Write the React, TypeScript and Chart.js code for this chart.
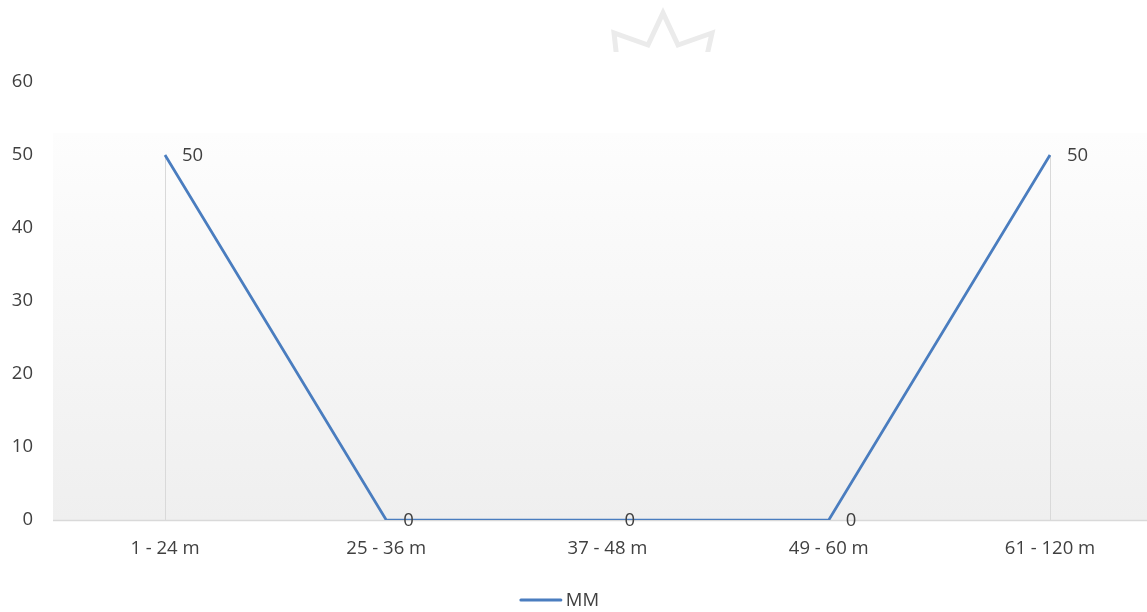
import { useEffect, useRef } from "react";
import { Chart, registerables } from "chart.js";

Chart.register(...registerables);

// Age bands along the horizontal axis
const categories = ["1 - 24 m", "25 - 36 m", "37 - 48 m", "49 - 60 m", "61 - 120 m"];
// Series values per band
const seriesName = "MM";
const mmValues = [50, 0, 0, 0, 50];
// Vertical axis range
const yMin = 0;
const yMax = 60;
const yStep = 10;

const FONT = "'Open Sans', 'Noto Sans', sans-serif";
const FONT_SIZE = 18.5;
const TEXT = "#404040";
const LINE = "#4a7dbf";

// Soft gradient behind the plot, thin drop lines, and the faint crown mark
const backdrop = {
  id: "backdrop",
  beforeDatasetsDraw(chart: any) {
    const { ctx, chartArea, scales } = chart;
    const top = scales.y.getPixelForValue(53);
    const g = ctx.createLinearGradient(0, top, 0, chartArea.bottom);
    g.addColorStop(0, "#fdfdfd");
    g.addColorStop(1, "#efefef");
    ctx.save();
    ctx.fillStyle = g;
    ctx.fillRect(chartArea.left, top, chartArea.right - chartArea.left, chartArea.bottom - top);
    // axis line redrawn over the fill
    ctx.strokeStyle = "#d9d9d9";
    ctx.lineWidth = 1.5;
    ctx.beginPath();
    ctx.moveTo(chartArea.left, chartArea.bottom + 0.5);
    ctx.lineTo(chartArea.right, chartArea.bottom + 0.5);
    ctx.stroke();
    // drop lines from each point to the baseline
    const meta = chart.getDatasetMeta(0);
    const base = scales.y.getPixelForValue(0);
    ctx.strokeStyle = "#d9d9d9";
    ctx.lineWidth = 1;
    meta.data.forEach((pt: any) => {
      ctx.beginPath();
      ctx.moveTo(Math.round(pt.x) + 0.5, pt.y);
      ctx.lineTo(Math.round(pt.x) + 0.5, base);
      ctx.stroke();
    });
    ctx.restore();
  },
  beforeDraw(chart: any) {
    const { ctx } = chart;
    ctx.save();
    ctx.beginPath();
    ctx.rect(0, 0, chart.width, 52);
    ctx.clip();
    ctx.strokeStyle = "#ebebeb";
    ctx.lineWidth = 5;
    ctx.lineJoin = "miter";
    ctx.beginPath();
    ctx.moveTo(617, 60);
    ctx.lineTo(614, 33);
    ctx.lineTo(648, 45);
    ctx.lineTo(663, 13);
    ctx.lineTo(678, 45);
    ctx.lineTo(712, 33);
    ctx.lineTo(706, 60);
    ctx.stroke();
    ctx.restore();
  },
};

// Value labels placed to the right of each point
const valueLabels = {
  id: "valueLabels",
  afterDatasetsDraw(chart: any) {
    const { ctx } = chart;
    const meta = chart.getDatasetMeta(0);
    const values = chart.data.datasets[0].data;
    ctx.save();
    ctx.font = `${FONT_SIZE}px ${FONT}`;
    ctx.fillStyle = TEXT;
    ctx.textAlign = "left";
    ctx.textBaseline = "middle";
    meta.data.forEach((pt: any, i: number) => {
      ctx.fillText(String(values[i].y), pt.x + 17, pt.y + 1);
    });
    ctx.restore();
  },
};

// Legend entry drawn under the axis labels
const bottomLegend = {
  id: "bottomLegend",
  afterDraw(chart: any) {
    const { ctx } = chart;
    const ds = chart.data.datasets[0];
    ctx.save();
    ctx.font = `${FONT_SIZE}px ${FONT}`;
    const tw = ctx.measureText(ds.label).width;
    const total = 40 + 5 + tw;
    const cx = 560;
    const y = 600;
    const x0 = cx - total / 2;
    ctx.strokeStyle = ds.borderColor;
    ctx.lineWidth = 3;
    ctx.lineCap = "round";
    ctx.beginPath();
    ctx.moveTo(x0, y);
    ctx.lineTo(x0 + 40, y);
    ctx.stroke();
    ctx.fillStyle = TEXT;
    ctx.textAlign = "left";
    ctx.textBaseline = "middle";
    ctx.fillText(ds.label, x0 + 45, y + 1);
    ctx.restore();
  },
};

export default function App() {
  const ref = useRef<HTMLCanvasElement | null>(null);

  useEffect(() => {
    if (!ref.current) return;
    const chart = new Chart(ref.current, {
      type: "line",
      data: {
        datasets: [
          {
            label: seriesName,
            data: mmValues.map((v, i) => ({ x: i, y: v })),
            borderColor: LINE,
            backgroundColor: LINE,
            borderWidth: 2.75,
            pointRadius: 0,
            pointHoverRadius: 0,
            tension: 0,
            borderJoinStyle: "miter",
          },
        ],
      },
      options: {
        responsive: false,
        animation: false,
        events: [],
        layout: { padding: { top: 82, bottom: 32, left: 0, right: 0 } },
        plugins: {
          legend: { display: false },
          tooltip: { enabled: false },
        },
        scales: {
          x: {
            type: "linear",
            min: -0.5062,
            max: 4.4384,
            grid: { display: false, drawTicks: false },
            border: { display: false },
            ticks: {
              stepSize: 1,
              includeBounds: false,
              autoSkip: false,
              maxRotation: 0,
              padding: 18,
              color: TEXT,
              font: { family: FONT, size: FONT_SIZE },
              callback: (v: any) => categories[v] ?? "",
            },
            afterFit: (s: any) => {
              s.height = 60;
            },
          },
          y: {
            min: yMin,
            max: yMax,
            grid: { display: false, drawTicks: false },
            border: { display: false },
            ticks: {
              stepSize: yStep,
              padding: 20,
              color: TEXT,
              font: { family: FONT, size: FONT_SIZE },
            },
            afterFit: (s: any) => {
              s.width = 53;
            },
          },
        },
      },
      plugins: [backdrop, valueLabels, bottomLegend],
    } as any);
    return () => chart.destroy();
  }, []);

  return (
    <div style={{ position: "absolute", left: 0, top: 0, width: 1147, height: 612, background: "#ffffff" }}>
      <canvas ref={ref} width={1147} height={612} style={{ display: "block" }} />
    </div>
  );
}
